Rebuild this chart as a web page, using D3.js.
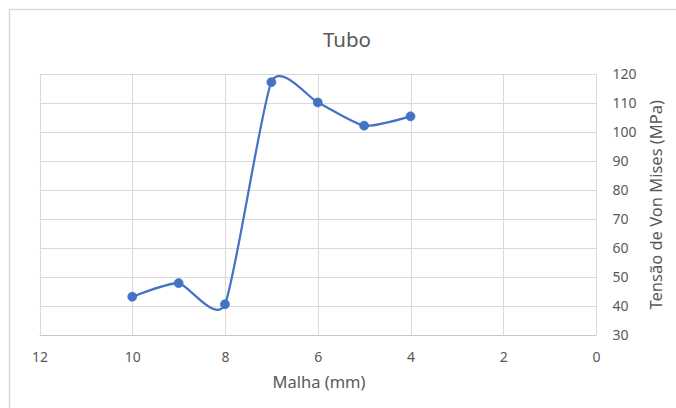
<!DOCTYPE html>
<html>
<head>
<meta charset="utf-8">
<script src="https://cdn.jsdelivr.net/npm/d3@7"></script>
<style>
  body { margin: 0; background: #fff; }
  text { font-family: "Noto Sans", "Open Sans", sans-serif; fill: #595959; }
</style>
</head>
<body>
<div id="chart"></div>
<script>
// Malha (mm) vs Tensão de Von Mises (MPa)
const malha = [10, 9, 8, 7, 6, 5, 4];
const tensao = [43.3, 48.0, 40.7, 117.3, 110.3, 102.3, 105.5];
const xTicks = [12, 10, 8, 6, 4, 2, 0];
const yTicks = [30, 40, 50, 60, 70, 80, 90, 100, 110, 120];

const WIDTH = 676, HEIGHT = 408;
const plot = {left: 39.5, right: 596, top: 74.3, bottom: 335.3};

const svg = d3.select("#chart")
    .append("svg")
        .attr("width", WIDTH)
        .attr("height", HEIGHT);

// chart border (cropped at right and bottom)
svg.append("path")
    .attr("d", "M9.5,420 V9.5 H700")
    .attr("fill", "none")
    .attr("stroke", "#d9d9d9")
    .attr("stroke-width", 1.5);

// axis is reversed: 12 on the left, 0 on the right
const x = d3.scaleLinear().domain([12, 0]).range([plot.left, plot.right]);
const y = d3.scaleLinear().domain([30, 120]).range([plot.bottom, plot.top]);

// gridlines
svg.append("g")
    .selectAll("line.h")
    .data(yTicks)
    .enter()
    .append("line")
        .attr("x1", plot.left)
        .attr("x2", plot.right)
        .attr("y1", d => Math.round(y(d)) + 0.5)
        .attr("y2", d => Math.round(y(d)) + 0.5)
        .attr("stroke", d => d === 30 ? "#c8c8c8" : "#d9d9d9")
        .attr("stroke-width", 1);

svg.append("g")
    .selectAll("line.v")
    .data(xTicks)
    .enter()
    .append("line")
        .attr("x1", d => Math.round(x(d)) + 0.5)
        .attr("x2", d => Math.round(x(d)) + 0.5)
        .attr("y1", plot.top)
        .attr("y2", plot.bottom)
        .attr("stroke", "#d9d9d9")
        .attr("stroke-width", 1);

// x tick labels
const xAxis = d3.axisBottom(x).tickValues(xTicks).tickSize(0).tickPadding(0);
const gx = svg.append("g")
    .attr("transform", `translate(0,${plot.bottom})`)
    .call(xAxis);
gx.select(".domain").remove();
gx.selectAll("text")
    .attr("y", 27)
    .attr("dy", null)
    .style("font-size", "14px")
    .style("fill", "#595959");

// y tick labels on the right
const yAxis = d3.axisRight(y).tickValues(yTicks).tickSize(0).tickPadding(0);
const gy = svg.append("g")
    .attr("transform", `translate(${plot.right + 16.5},0)`)
    .call(yAxis);
gy.select(".domain").remove();
gy.selectAll("text")
    .attr("x", 0)
    .style("font-size", "14px")
    .style("fill", "#595959");

// titles
svg.append("text")
    .attr("x", 347)
    .attr("y", 47)
    .attr("text-anchor", "middle")
    .style("font-size", "20.5px")
    .text("Tubo");

svg.append("text")
    .attr("x", 319)
    .attr("y", 388)
    .attr("text-anchor", "middle")
    .style("font-size", "16.5px")
    .text("Malha (mm)");

svg.append("text")
    .attr("transform", `translate(662,${(plot.top + plot.bottom) / 2}) rotate(-90)`)
    .attr("text-anchor", "middle")
    .style("font-size", "16.5px")
    .text("Tensão de Von Mises (MPa)");

// smoothed line + markers
const points = malha.map((m, i) => [m, tensao[i]]);

const line = d3.line()
    .x(d => x(d[0]))
    .y(d => y(d[1]))
    .curve(d3.curveCardinal.tension(0.4));

svg.append("path")
    .datum(points)
    .attr("d", line)
    .attr("fill", "none")
    .attr("stroke", "#4472c4")
    .attr("stroke-width", 2.25)
    .attr("stroke-linejoin", "round");

svg.selectAll("circle")
    .data(points)
    .enter()
    .append("circle")
        .attr("cx", d => x(d[0]))
        .attr("cy", d => y(d[1]))
        .attr("r", 4.5)
        .attr("fill", "#4472c4")
        .attr("stroke", "#4472c4")
        .attr("stroke-width", 0.75);
</script>
</body>
</html>
